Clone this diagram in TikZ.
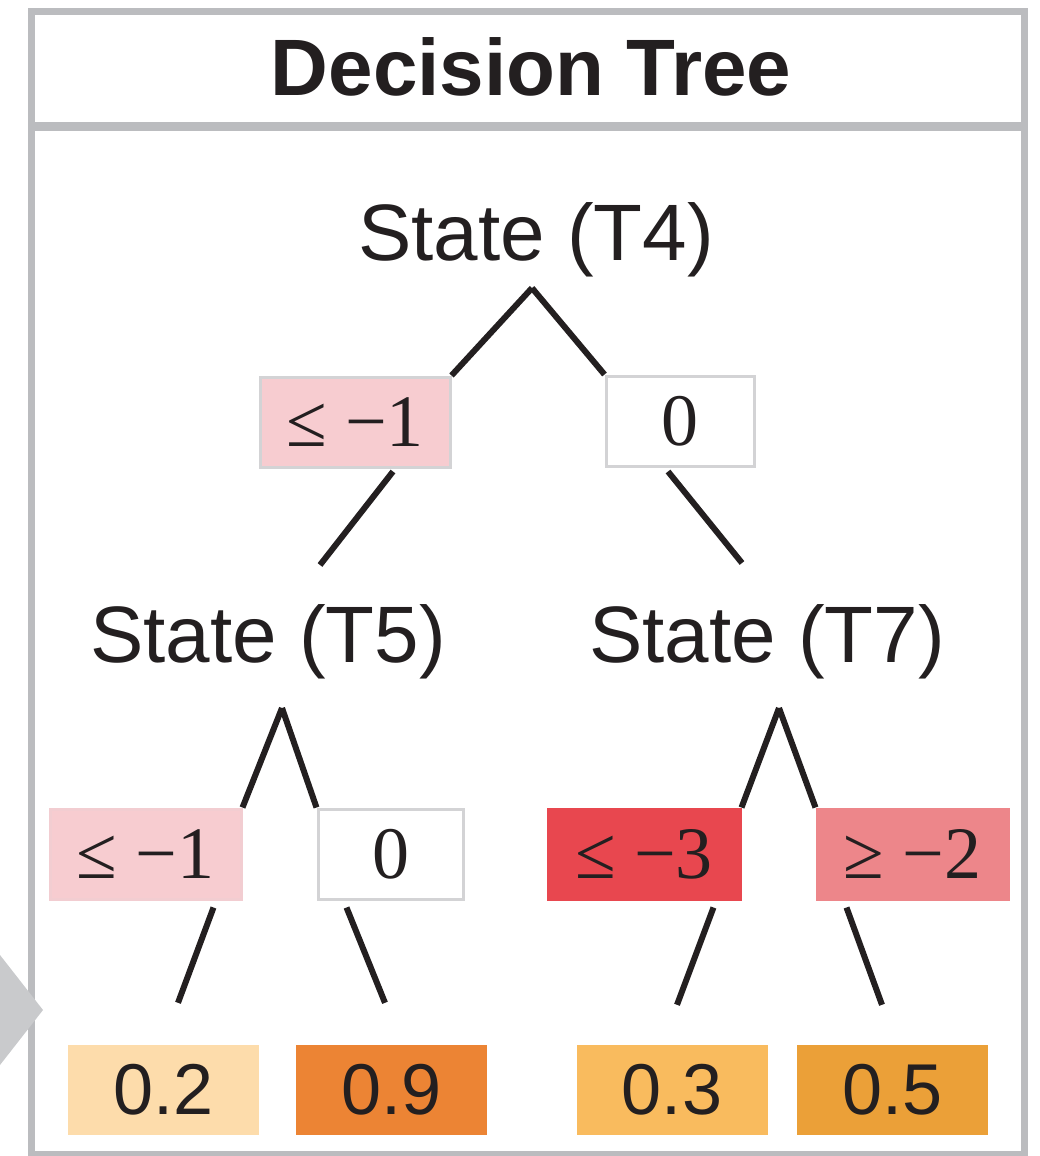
\documentclass[tikz,border=0pt]{standalone}
\usepackage{fontspec}
\setmainfont{Liberation Sans}
\newfontfamily\boxserif{Liberation Serif}
\usetikzlibrary{calc}
\definecolor{ink}{HTML}{231F20}
\definecolor{framegray}{HTML}{BBBCBF}
\definecolor{arrowgray}{HTML}{C9CACC}
\definecolor{bordergray}{HTML}{D3D3D5}
\definecolor{pinklight}{HTML}{F7CCD0}
\definecolor{redstrong}{HTML}{E8474F}
\definecolor{pinkmid}{HTML}{ED868A}
\definecolor{leafA}{HTML}{FDDCAB}
\definecolor{leafB}{HTML}{EC8434}
\definecolor{leafC}{HTML}{F9BB5E}
\definecolor{leafD}{HTML}{EBA038}
\pgfdeclarelayer{bg}
\pgfsetlayers{bg,main}
\tikzset{
  statenode/.style={anchor=base, inner sep=0pt, text=ink, font=\fontsize{80}{90}\selectfont},
  titlenode/.style={anchor=base, inner sep=0pt, text=ink, font=\fontsize{80}{90}\selectfont\bfseries},
  condbox/.style={draw=bordergray, line width=3pt, inner sep=0pt, minimum width=#1, minimum height=90pt, text=ink, font=\boxserif\fontsize{74}{80}\selectfont},
  leafbox/.style={draw=none, inner sep=0pt, minimum width=191pt, minimum height=90pt, text=ink, font=\fontsize{72}{80}\selectfont},
  conn/.style={draw=ink, line width=6pt},
  frameline/.style={draw=framegray, line width=7pt}
}
\begin{document}
\begin{tikzpicture}[x=1pt,y=-1pt]
\useasboundingbox (0,0) rectangle (1039,1156);
% frame
\draw[frameline] (31.5,11.5) rectangle (1024,1154);
\draw[frameline, line width=9pt] (31.5,126) -- (1024,126);
% gray arrow tip on the left
\fill[arrowgray] (0,955) -- (43,1010) -- (0,1065) -- cycle;
% title
\node[titlenode] (title) at (531,95) {Decision Tree};
% state nodes
\node[statenode] (t4) at (536,260) {State (T4)};
\node[statenode] (t5) at (268,662) {State (T5)};
\node[statenode] (t7) at (767,662) {State (T7)};
% condition boxes
\node[condbox=190pt, fill=pinklight] (b1) at (355,422) {≤ −1};
\node[condbox=148pt, fill=white] (b2) at (680,421) {0};
\node[condbox=191pt, fill=pinklight, draw=pinklight!85!bordergray] (b3) at (145.5,854) {≤ −1};
\node[condbox=145pt, fill=white] (b4) at (390.5,854) {0};
\node[condbox=192pt, fill=redstrong, draw=redstrong] (b5) at (644,854) {≤ −3};
\node[condbox=191pt, fill=pinkmid, draw=pinkmid] (b6) at (912.5,854) {≥ −2};
% leaves
\node[leafbox, fill=leafA] (l1) at (163.5,1090) {0.2};
\node[leafbox, fill=leafB] (l2) at (391.5,1090) {0.9};
\node[leafbox, fill=leafC] (l3) at (672,1090) {0.3};
\node[leafbox, fill=leafD] (l4) at (892.5,1090) {0.5};
% apex and end coordinates
\coordinate (a4) at (532,288);
\coordinate (a5) at (282,708);
\coordinate (a7) at (779,708);
\coordinate (e5) at (320,565);
\coordinate (e7) at (742,563);
\begin{pgfonlayer}{bg}
\draw[conn] (a4) -- (b1.north east);
\draw[conn] (a4) -- (b2.north west);
\draw[conn] ($(b1.south)+(38,3)$) -- (e5);
\draw[conn] ($(b2.south)+(-12,4)$) -- (e7);
\draw[conn] (a5) -- (b3.north east);
\draw[conn] (a5) -- (b4.north west);
\draw[conn] (a7) -- (b5.north east);
\draw[conn] (a7) -- (b6.north west);
\draw[conn] ($(b3.south east)+(-29,7)$) -- ($(l1.north)+(14.5,-42)$);
\draw[conn] ($(b4.south west)+(30,7)$) -- ($(l2.north)+(-6.5,-42)$);
\draw[conn] ($(b5.south east)+(-28,7)$) -- ($(l3.north)+(5,-40)$);
\draw[conn] ($(b6.south west)+(31,7)$) -- ($(l4.north)+(-10.5,-40)$);
\end{pgfonlayer}
\end{tikzpicture}
\end{document}
